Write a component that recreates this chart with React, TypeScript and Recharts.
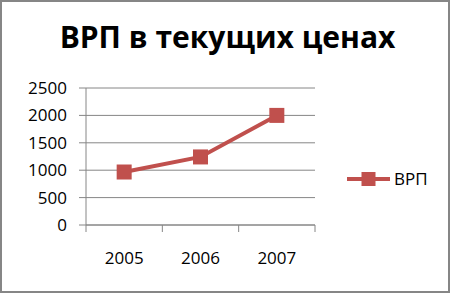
import React from 'react';
import { LineChart, Line, XAxis, YAxis, CartesianGrid } from 'recharts';

const years = [2005, 2006, 2007];
const vrp = [967, 1242, 2000];
const yTicks = [0, 500, 1000, 1500, 2000, 2500];
const seriesName = 'ВРП';
const title = 'ВРП в текущих ценах';

const data = years.map((y, i) => ({ year: y, vrp: vrp[i] }));
const xTicks: number[] = [];
xTicks.push(years[0] - 0.5);
years.forEach((y) => { xTicks.push(y); xTicks.push(y + 0.5); });

const RED = '#C0504D';
const GRID = '#868686';
const FONT = '"Open Sans", sans-serif';

const XTick = (props: any) => {
  const { x, y, payload } = props;
  const v = payload.value;
  if (Number.isInteger(v)) {
    return (
      <text x={x} y={y + 39} textAnchor="middle" fontSize={17} fontFamily={FONT} fill="#000">
        {v}
      </text>
    );
  }
  return <line x1={x} x2={x} y1={y} y2={y + 7} stroke={GRID} strokeWidth={1} />;
};

const SquareDot = (props: any) => {
  const { cx, cy } = props;
  if (cx == null || cy == null) return null;
  return <rect x={cx - 7.5} y={cy - 7.5} width={15} height={15} fill={RED} />;
};

export default function App() {
  return (
    <div style={{ position: 'fixed', left: 0, top: 0, width: 450, height: 293, background: '#fff' }}>
      <div
        style={{
          position: 'absolute', left: 0, top: 0, width: 450, height: 293,
          boxSizing: 'border-box', border: `2px solid ${GRID}`, pointerEvents: 'none', zIndex: 2,
        }}
      />
      <div
        style={{
          position: 'absolute', left: 0, top: 16, width: 455, textAlign: 'center',
          fontFamily: FONT, fontWeight: 700, fontSize: 30, color: '#000', lineHeight: '42px',
        }}
      >
        {title}
      </div>
      <svg style={{ position: 'absolute', left: 345, top: 167 }} width={100} height={24}>
        <line x1={2} x2={45} y1={12} y2={12} stroke={RED} strokeWidth={4} />
        <rect x={16.5} y={5} width={14} height={14} fill={RED} />
        <text x={49} y={18} fontSize={17} fontFamily={FONT} fill="#000">{seriesName}</text>
      </svg>
      <LineChart
        width={450}
        height={293}
        data={data}
        margin={{ top: 88, right: 135, bottom: 28, left: 0 }}
      >
        <CartesianGrid horizontal vertical={false} stroke={GRID} strokeDasharray="" />
        <XAxis
          dataKey="year"
          type="number"
          domain={[years[0] - 0.5, years[years.length - 1] + 0.5]}
          ticks={xTicks}
          interval={0}
          height={40}
          tickSize={0}
          tickMargin={0}
          tickLine={false}
          stroke={GRID}
          tick={<XTick />}
        />
        <YAxis
          width={86}
          domain={[0, 2500]}
          ticks={yTicks}
          interval={0}
          tickSize={7}
          tickMargin={12}
          stroke={GRID}
          tick={{ fontSize: 17, fontFamily: FONT, fill: '#000' }}
        />
        <Line
          dataKey="vrp"
          name={seriesName}
          stroke={RED}
          strokeWidth={4}
          dot={<SquareDot />}
          activeDot={false}
          isAnimationActive={false}
        />
      </LineChart>
    </div>
  );
}
